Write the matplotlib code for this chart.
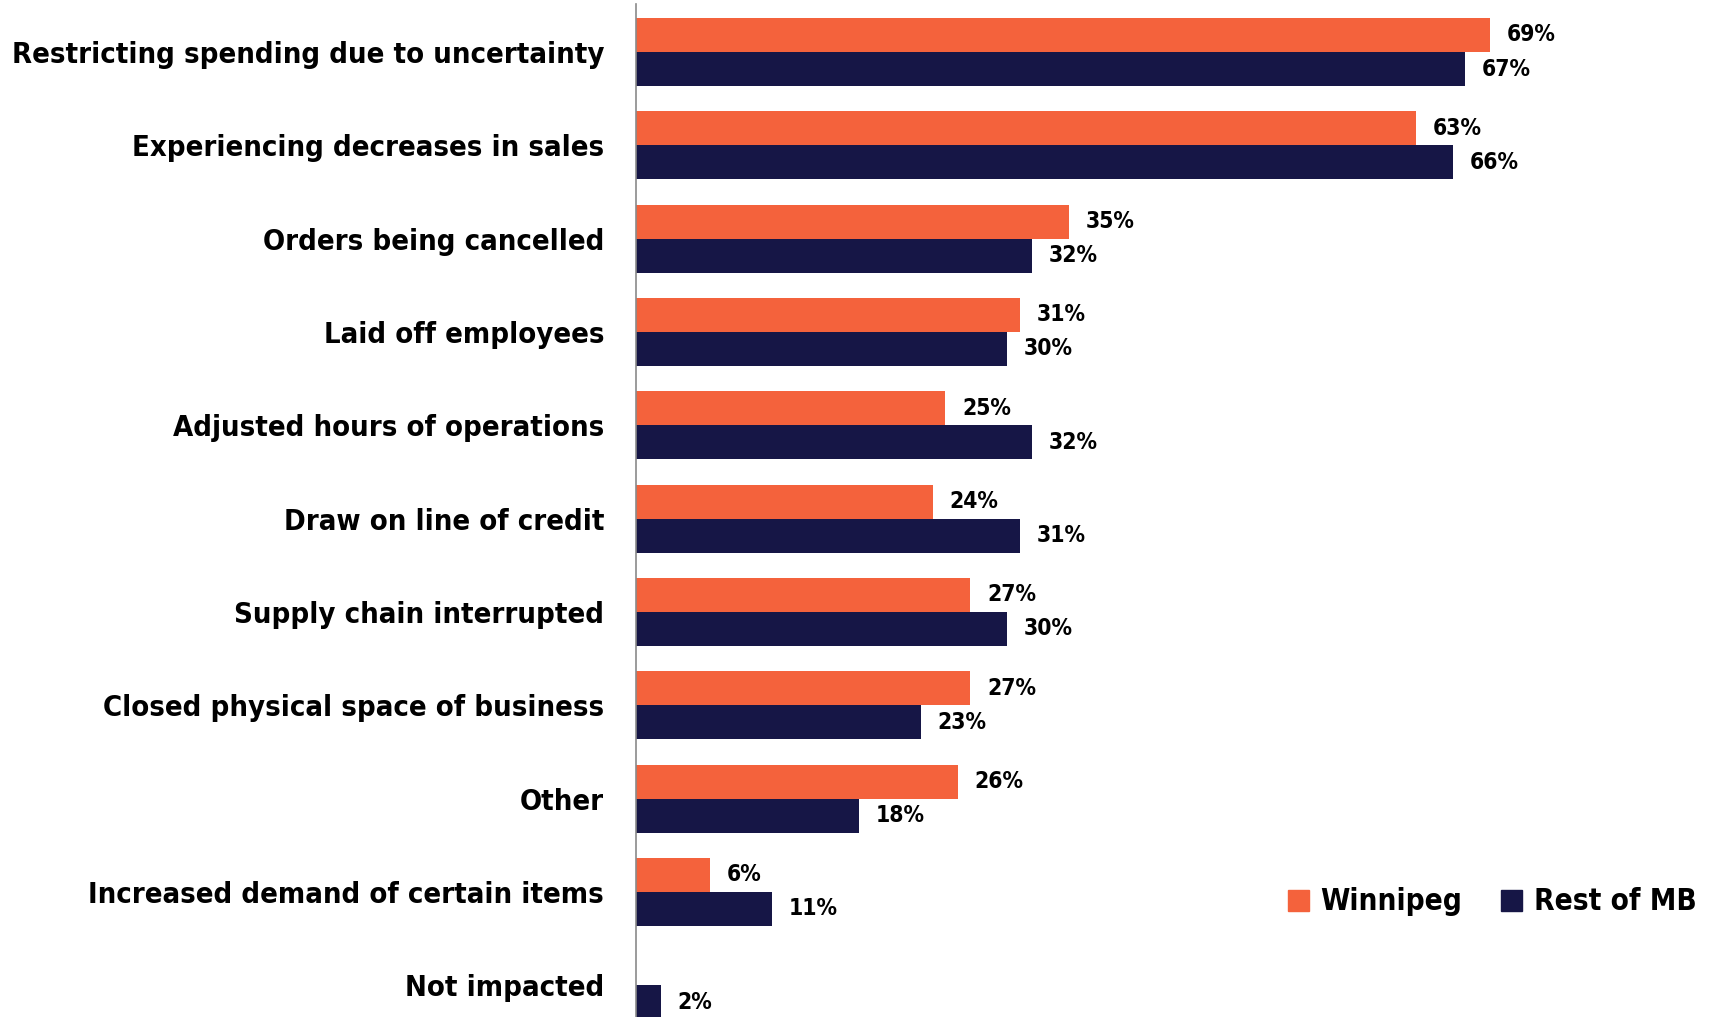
import matplotlib.pyplot as plt
from matplotlib.patches import Patch
import numpy as np

categories = [
    "Restricting spending due to uncertainty",
    "Experiencing decreases in sales",
    "Orders being cancelled",
    "Laid off employees",
    "Adjusted hours of operations",
    "Draw on line of credit",
    "Supply chain interrupted",
    "Closed physical space of business",
    "Other",
    "Increased demand of certain items",
    "Not impacted",
]
winnipeg = [69, 63, 35, 31, 25, 24, 27, 27, 26, 6, 0]
rest_of_mb = [67, 66, 32, 30, 32, 31, 30, 23, 18, 11, 2]

ORANGE = "#F4623C"
NAVY = "#161646"
FONT = dict(family="DejaVu Sans", fontstretch="condensed", fontweight="bold")

fig = plt.figure(figsize=(17.29, 10.17), dpi=100)
renderer = fig.canvas.get_renderer()


def fit_size(text, width_px, start=24):
    # font size that makes the text about width_px wide
    t = fig.text(0, 0, text, fontsize=start, **FONT)
    w = t.get_window_extent(renderer).width
    t.remove()
    return start * width_px / w


label_size = min(24.5, fit_size(categories[0], 591))
value_size = min(21, fit_size("69%", 49))
legend_size = min(24.5, fit_size("Winnipeg", 142))

ax = fig.add_axes([636 / 1729, 0, 1 - 636 / 1729, 1013 / 1017])

y = np.arange(len(categories))
h = 0.365
ax.barh(y - h / 2, winnipeg, height=h, color=ORANGE)
ax.barh(y + h / 2, rest_of_mb, height=h, color=NAVY)

# value labels, skip the empty Winnipeg bar
for yi, v in zip(y, winnipeg):
    if v > 0:
        ax.annotate(f"{v}%", (v, yi - h / 2), xytext=(12, 0), textcoords="offset points",
                    va="center", ha="left", fontsize=value_size, **FONT)
for yi, v in zip(y, rest_of_mb):
    ax.annotate(f"{v}%", (v, yi + h / 2), xytext=(12, 0), textcoords="offset points",
                va="center", ha="left", fontsize=value_size, **FONT)

ax.set_xlim(0, 88.3)
ax.set_ylim(10.34, -0.514)
ax.set_yticks(y)
ax.set_yticklabels(categories, fontsize=label_size, **FONT)
ax.tick_params(axis="y", length=0, pad=23)
ax.set_xticks([])
for s in ["top", "right", "bottom"]:
    ax.spines[s].set_visible(False)
ax.spines["left"].set_color("#8a8a8a")
ax.spines["left"].set_linewidth(1.2)

handles = [Patch(color=ORANGE, label="Winnipeg"), Patch(color=NAVY, label="Rest of MB")]
fig.legend(handles=handles, loc="center left", bbox_to_anchor=(1288 / 1729, 1 - 902 / 1017),
           ncol=2, frameon=False,
           prop={"family": "DejaVu Sans", "stretch": "condensed", "size": legend_size, "weight": "bold"},
           handlelength=0.7, handleheight=0.7, handletextpad=0.4, columnspacing=1.3,
           borderpad=0, borderaxespad=0)

fig.savefig("out.png", dpi=100)
